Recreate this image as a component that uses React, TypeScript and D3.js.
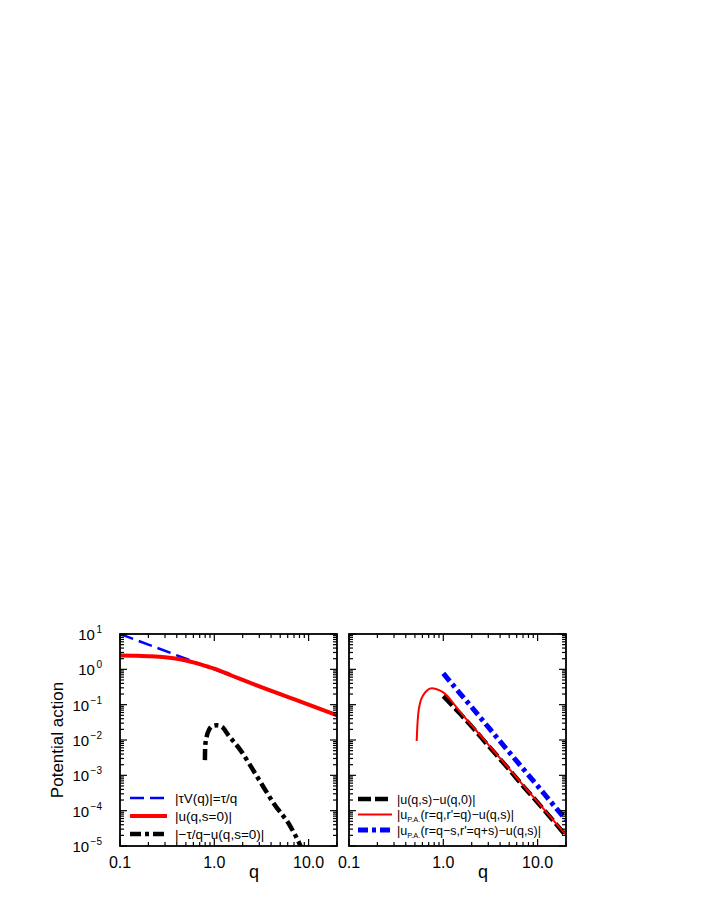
import React from 'react'
import * as d3 from 'd3'

// left panel: |tau V(q)| = tau/q
const qTau = [0.1, 0.2, 0.5, 1, 2, 5, 10, 20]
const tauOverQ = [10, 5, 2, 1, 0.5, 0.2, 0.1, 0.05]

// left panel: |u(q,s=0)|
const qU0 = [0.1, 0.15, 0.2, 0.3, 0.4, 0.5, 0.6, 0.7, 0.8, 0.9, 1.0, 1.5, 2, 3, 5, 7, 10, 15, 20]
const uS0 = [2.45, 2.42, 2.35, 2.2, 2.0, 1.78, 1.58, 1.4, 1.26, 1.14, 1.05, 0.68, 0.5, 0.33, 0.2, 0.143, 0.1, 0.067, 0.05]

// left panel: |-tau/q - u(q,s=0)|
const qDiff = [0.795, 0.8, 0.83, 0.885, 0.96, 1.07, 1.2, 1.4, 1.9, 2.85, 4.27, 6.44, 8.2, 9]
const diffVals = [2.7e-3, 6.5e-3, 0.0124, 0.02, 0.0249, 0.026, 0.024, 0.014, 5.1e-3, 9.1e-4, 1.6e-4, 3.5e-5, 1.0e-5, 5.5e-6]

// right panel: |u(q,s)-u(q,0)|
const qUs = [1.0, 1.2, 1.5, 2, 3, 5, 7, 10, 15, 20]
const uDiffS = [0.175, 0.105, 0.056, 0.024, 6.9e-3, 1.45e-3, 5.0e-4, 1.7e-4, 4.8e-5, 1.95e-5]

// right panel: |u_PA(r=q,r'=q)-u(q,s)|
const qPA = [0.522, 0.53, 0.543, 0.566, 0.614, 0.667, 0.753, 0.851, 1.0, 1.5, 2, 3, 5, 7, 10, 15, 20]
const paSame = [9.4e-3, 0.0238, 0.0569, 0.109, 0.187, 0.249, 0.29, 0.272, 0.223, 0.0635, 0.026, 7.4e-3, 1.53e-3, 5.3e-4, 1.77e-4, 5.0e-5, 2.1e-5]

// right panel: |u_PA(r=q-s,r'=q+s)-u(q,s)|
const qPAShift = [1.0, 1.5, 2, 3, 5, 7, 10, 15, 20]
const paShift = [0.77, 0.21, 0.085, 0.023, 4.5e-3, 1.55e-3, 5.0e-4, 1.36e-4, 5.5e-5]

const xTickLabels = [0.1, 1, 10]
const yExponents = [1, 0, -1, -2, -3, -4, -5]

const FONT = 'Liberation Sans, Arial, Helvetica, sans-serif'
const TOP = 634
const BOTTOM = 846
const PANEL_W = 217

const y = d3.scaleLog().domain([1e-5, 10]).range([BOTTOM, TOP])

type Series = { q: number[]; v: number[]; color: string; width: number; dash?: string; linear?: boolean }
type LegendItem = { label: React.ReactNode; color: string; width: number; dash?: string }

const isMajor = (t: number) => Math.abs(Math.log10(t) - Math.round(Math.log10(t))) < 1e-9
const fmtExp = (e: number) => (e < 0 ? '\u2212' + Math.abs(e) : String(e))

function Panel({ id, left, series, legend, legendY, legendFont, lineX0, lineX1, textX, showYLabels }: {
  id: string; left: number; series: Series[]; legend: LegendItem[]; legendY: number[]; legendFont: number
  lineX0: number; lineX1: number; textX: number; showYLabels: boolean
}) {
  const right = left + PANEL_W
  const x = d3.scaleLog().domain([0.1, 20]).range([left, right])
  const xt = x.ticks()
  const yt = y.ticks()

  const makePath = (s: Series) => {
    const pts: [number, number][] = s.q.map((q, i) => [q, s.v[i]])
    const line = d3.line<[number, number]>()
      .x(d => x(d[0]))
      .y(d => y(d[1]))
      .curve(s.linear ? d3.curveLinear : d3.curveMonotoneX)
    return line(pts) || ''
  }

  return (
    <g>
      <defs>
        <clipPath id={id}>
          <rect x={left} y={TOP} width={PANEL_W} height={BOTTOM - TOP} />
        </clipPath>
      </defs>

      <g clipPath={`url(#${id})`}>
        {series.map((s, i) => (
          <path key={i} d={makePath(s)} fill="none" stroke={s.color} strokeWidth={s.width}
            strokeDasharray={s.dash} />
        ))}
      </g>

      {/* ticks on all four sides, pointing in */}
      {xt.map((t, i) => {
        const len = isMajor(t) ? 7 : 4
        const px = x(t)
        return (
          <g key={'x' + i} stroke="#000" strokeWidth={1.2}>
            <line x1={px} x2={px} y1={BOTTOM} y2={BOTTOM - len} />
            <line x1={px} x2={px} y1={TOP} y2={TOP + len} />
          </g>
        )
      })}
      {yt.map((t, i) => {
        const len = isMajor(t) ? 7 : 4
        const py = y(t)
        return (
          <g key={'y' + i} stroke="#000" strokeWidth={1.2}>
            <line x1={left} x2={left + len} y1={py} y2={py} />
            <line x1={right} x2={right - len} y1={py} y2={py} />
          </g>
        )
      })}

      <rect x={left} y={TOP} width={PANEL_W} height={BOTTOM - TOP} fill="none" stroke="#000" strokeWidth={1.8} />

      {xTickLabels.map((t, i) => (
        <text key={'xl' + i} x={x(t)} y={868} textAnchor="middle" fontSize={16} fontFamily={FONT}>
          {t.toFixed(1)}
        </text>
      ))}
      <text x={left + 134} y={878} textAnchor="middle" fontSize={18} fontFamily={FONT}>q</text>

      {showYLabels && yExponents.map((e, i) => (
        <text key={'yl' + i} x={102} y={y(Math.pow(10, e)) + 6} textAnchor="end" fontSize={15} fontFamily={FONT}>
          10<tspan dy={-7} dx={1.5} fontSize={10}>{fmtExp(e)}</tspan>
        </text>
      ))}

      {legend.map((l, i) => (
        <g key={'lg' + i}>
          <line x1={lineX0} x2={lineX1} y1={legendY[i]} y2={legendY[i]} stroke={l.color} strokeWidth={l.width}
            strokeDasharray={l.dash} />
          <text x={textX} y={legendY[i] + legendFont * 0.36} fontSize={legendFont} fontFamily={FONT}>{l.label}</text>
        </g>
      ))}
    </g>
  )
}

const blueDash = '14 6'
const blackDashDot = '11 4 4 4'
const blackDash = '13 4'
const blueDashDot = '10 4 4 4'

export default function App() {
  const leftSeries: Series[] = [
    { q: qTau, v: tauOverQ, color: '#0000ff', width: 2.5, dash: blueDash, linear: true },
    { q: qU0, v: uS0, color: '#ff0000', width: 4 },
    { q: qDiff, v: diffVals, color: '#000', width: 4.5, dash: blackDashDot },
  ]
  const rightSeries: Series[] = [
    { q: qUs, v: uDiffS, color: '#000', width: 4.5, dash: blackDash },
    { q: qPA, v: paSame, color: '#ff0000', width: 2 },
    { q: qPAShift, v: paShift, color: '#0000ff', width: 5, dash: blueDashDot },
  ]
  const sub = (s: string) => (
    <>
      |u<tspan fontSize={7.5} dy={3}>P.A.</tspan><tspan dy={-3}>{s}</tspan>
    </>
  )
  const leftLegend: LegendItem[] = [
    { label: '|\u03c4V(q)|=\u03c4/q', color: '#0000ff', width: 2.5, dash: blueDash },
    { label: '|u(q,s=0)|', color: '#ff0000', width: 4 },
    { label: '|\u2212\u03c4/q\u2212u(q,s=0)|', color: '#000', width: 4.5, dash: blackDashDot },
  ]
  const rightLegend: LegendItem[] = [
    { label: '|u(q,s)\u2212u(q,0)|', color: '#000', width: 4.5, dash: blackDash },
    { label: sub("(r=q,r'=q)\u2212u(q,s)|"), color: '#ff0000', width: 2 },
    { label: sub("(r=q\u2212s,r'=q+s)\u2212u(q,s)|"), color: '#0000ff', width: 5, dash: blueDashDot },
  ]

  return (
    <svg width={706} height={913} style={{ position: 'absolute', left: 0, top: 0, display: 'block' }}>
      <rect width={706} height={913} fill="#fff" />
      <Panel id="clipL" left={120} series={leftSeries} legend={leftLegend} legendY={[798, 816, 834]}
        legendFont={13.5} lineX0={130} lineX1={167} textX={175} showYLabels />
      <Panel id="clipR" left={349} series={rightSeries} legend={rightLegend} legendY={[799, 814.5, 830]}
        legendFont={12.5} lineX0={358} lineX1={392} textX={397} showYLabels={false} />
      <text transform={`translate(63,${(TOP + BOTTOM) / 2}) rotate(-90)`} textAnchor="middle" fontSize={17}
        fontFamily={FONT}>Potential action</text>
    </svg>
  )
}
